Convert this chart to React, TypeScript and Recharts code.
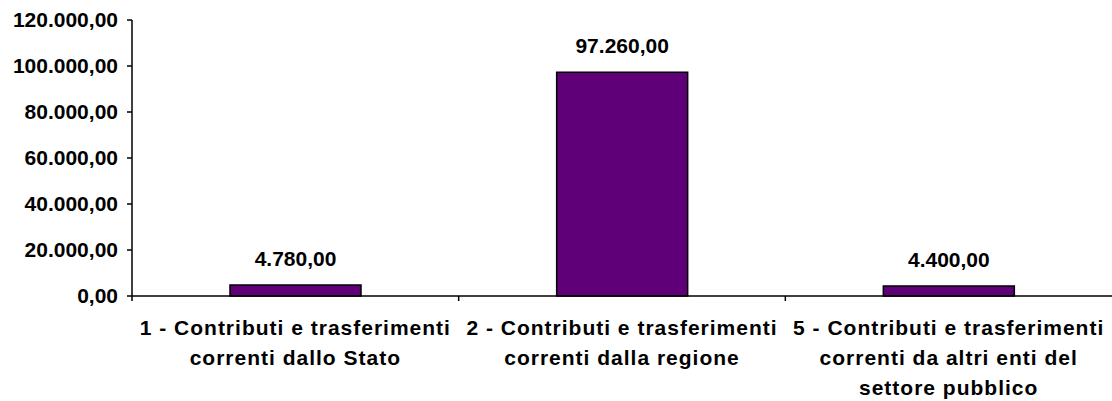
import { BarChart, Bar, XAxis, YAxis, LabelList } from "recharts"

const categories = [
  "1 - Contributi e trasferimenti correnti dallo Stato",
  "2 - Contributi e trasferimenti correnti dalla regione",
  "5 - Contributi e trasferimenti correnti da altri enti del settore pubblico",
]
const categoryLines = [
  ["1 - Contributi e trasferimenti", "correnti dallo Stato"],
  ["2 - Contributi e trasferimenti", "correnti dalla regione"],
  ["5 - Contributi e trasferimenti", "correnti da altri enti del", "settore pubblico"],
]
const values = [4780, 97260, 4400]
const yTicks = [0, 20000, 40000, 60000, 80000, 100000, 120000]

const data = categories.map((name, i) => ({ name, value: values[i] }))

const fmt = (v: number) =>
  v.toLocaleString("it-IT", { minimumFractionDigits: 2, maximumFractionDigits: 2, useGrouping: "always" } as any)

const font = "'Liberation Sans', Arial, sans-serif"

// category label + tick marks on the band edges (Excel style)
function CategoryTick(props: any) {
  const { x, y, payload, index, width, visibleTicksCount } = props
  const lines = categoryLines[index] ?? [payload.value]
  const band = width / (visibleTicksCount || categories.length)
  return (
    <g>
      <line x1={x - band / 2} x2={x - band / 2} y1={y} y2={y + 5} stroke="#000" strokeWidth={1.5} />
      <text x={x} y={y} textAnchor="middle" fontFamily={font} fontWeight="bold" fontSize={21} fill="#000" letterSpacing={1}>
        {lines.map((l, i) => (
          <tspan key={i} x={x} y={y + 39 + i * 30}>
            {l}
          </tspan>
        ))}
      </text>
    </g>
  )
}

export default function App() {
  return (
    <div style={{ position: "absolute", left: 0, top: 0, background: "#fff" }}>
      <BarChart width={1112} height={401} data={data} margin={{ top: 20, right: 0, left: 0, bottom: 0 }} barCategoryGap="30%">
        <XAxis
          dataKey="name"
          stroke="#000"
          strokeWidth={1.5}
          tickSize={0}
          tickMargin={0}
          height={105}
          interval={0}
          tick={<CategoryTick />}
          tickLine={false}
        />
        <YAxis
          width={132}
          domain={[0, 120000]}
          ticks={yTicks}
          tickFormatter={fmt}
          stroke="#000"
          strokeWidth={1.5}
          tickSize={5}
          tickMargin={9}
          tick={{ fill: "#000", fontFamily: font, fontWeight: "bold", fontSize: 21 }}
        />
        <Bar dataKey="value" fill="#5f0078" stroke="#000" strokeWidth={1.5} isAnimationActive={false}>
          <LabelList
            dataKey="value"
            position="top"
            offset={19}
            formatter={(v: any) => fmt(Number(v))}
            style={{ fill: "#000", fontFamily: font, fontWeight: "bold", fontSize: 21 }}
          />
        </Bar>
      </BarChart>
    </div>
  )
}
